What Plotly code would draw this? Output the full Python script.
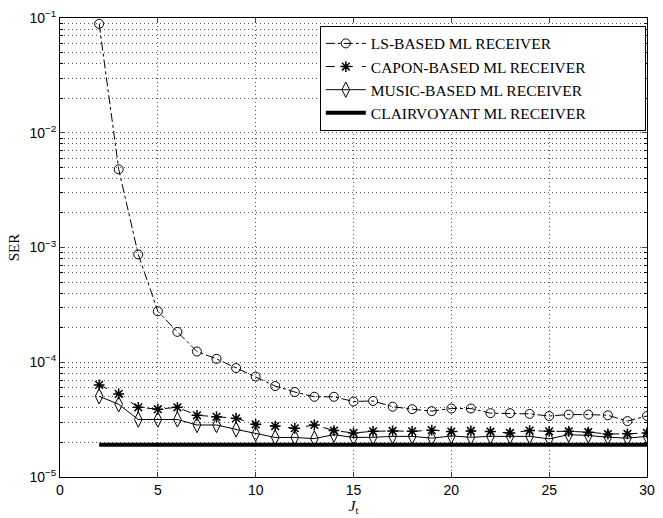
import plotly.graph_objects as go

# ---- data ----
jt = list(range(2, 31))
ls_ser = [8.9e-2, 4.8e-3, 8.7e-4, 2.78e-4, 1.84e-4, 1.24e-4, 1.07e-4, 8.9e-5, 7.5e-5,
          6.2e-5, 5.5e-5, 5.0e-5, 5.0e-5, 4.55e-5, 4.6e-5, 4.1e-5, 3.9e-5, 3.75e-5,
          3.95e-5, 3.95e-5, 3.6e-5, 3.6e-5, 3.55e-5, 3.4e-5, 3.5e-5, 3.5e-5, 3.45e-5,
          3.07e-5, 3.4e-5]
capon_ser = [6.35e-5, 5.3e-5, 4.05e-5, 3.9e-5, 4.05e-5, 3.45e-5, 3.35e-5, 3.25e-5, 2.88e-5,
             2.78e-5, 2.66e-5, 2.84e-5, 2.54e-5, 2.42e-5, 2.5e-5, 2.52e-5, 2.5e-5, 2.56e-5,
             2.49e-5, 2.52e-5, 2.49e-5, 2.42e-5, 2.54e-5, 2.5e-5, 2.5e-5, 2.46e-5, 2.37e-5,
             2.38e-5, 2.42e-5]
music_ser = [5.05e-5, 4.3e-5, 3.17e-5, 3.17e-5, 3.17e-5, 2.84e-5, 2.84e-5, 2.6e-5, 2.38e-5,
             2.21e-5, 2.21e-5, 2.16e-5, 2.34e-5, 2.21e-5, 2.22e-5, 2.26e-5, 2.26e-5, 2.18e-5,
             2.28e-5, 2.22e-5, 2.26e-5, 2.26e-5, 2.26e-5, 2.15e-5, 2.34e-5, 2.3e-5, 2.22e-5,
             2.18e-5, 2.26e-5]
clair_ser = [1.91e-5] * len(jt)

names = ["LS-BASED ML RECEIVER", "CAPON-BASED ML RECEIVER",
         "MUSIC-BASED ML RECEIVER", "CLAIRVOYANT ML RECEIVER"]

decades = [-5, -4, -3, -2, -1]
x_ticks = [0, 5, 10, 15, 20, 25, 30]

major_vals = [10.0 ** d for d in decades]
major_text = [f"10<sup>\u2212{-d}</sup>" for d in decades]
minor_vals = [m * 10.0 ** d for d in decades[:-1] for m in range(2, 10)]

GRID = "#555"
DOT = "1px,3px"
PAD = "\u00a0" * 14  # blank space at the right of the legend box, as in the reference

fig = go.Figure()
fig.add_trace(go.Scatter(x=jt, y=ls_ser, name=names[0], mode="lines+markers",
                         line=dict(color="black", width=1, dash="dashdot"),
                         marker=dict(symbol="circle-open", size=9, color="black",
                                     line=dict(width=1))))
fig.add_trace(go.Scatter(x=jt, y=capon_ser, name=names[1] + PAD, mode="lines+markers",
                         line=dict(color="black", width=1, dash="dash"),
                         marker=dict(symbol="asterisk-open", size=9, color="black",
                                     line=dict(width=1.5, color="black"))))
fig.add_trace(go.Scatter(x=jt, y=music_ser, name=names[2], mode="lines+markers",
                         line=dict(color="black", width=1),
                         marker=dict(symbol="diamond-tall-open", size=11, color="black",
                                     line=dict(width=1))))
fig.add_trace(go.Scatter(x=jt, y=clair_ser, name=names[3], mode="lines",
                         line=dict(color="black", width=4)))

fig.update_layout(
    width=663, height=518,
    margin=dict(l=60, r=8, t=15, b=35),
    paper_bgcolor="white", plot_bgcolor="white",
    showlegend=True,
    legend=dict(x=0.998, y=0.983, xanchor="right", yanchor="top",
                bgcolor="white", bordercolor="black", borderwidth=1,
                font=dict(family="Liberation Serif", size=15.5, color="black"),
                tracegroupgap=0, itemwidth=40),
    font=dict(family="Liberation Sans", size=14, color="black"),
)

fig.update_xaxes(range=[0, 30], tickvals=x_ticks, ticks="inside", ticklen=5,
                 showline=True, linecolor="black", linewidth=1, mirror="ticks",
                 showgrid=True, gridcolor=GRID, griddash=DOT, gridwidth=1,
                 zeroline=False, tickfont=dict(family="Liberation Sans", size=14),
                 title=dict(text="<i>J</i><sub>t</sub>", standoff=2,
                            font=dict(family="Liberation Serif", size=15)))
fig.update_yaxes(type="log", range=[-5, -1], tickvals=major_vals, ticktext=major_text,
                 ticks="inside", ticklen=5,
                 showline=True, linecolor="black", linewidth=1, mirror="ticks",
                 showgrid=True, gridcolor=GRID, griddash=DOT, gridwidth=1,
                 minor=dict(tickvals=minor_vals, ticks="inside", ticklen=3,
                            tickcolor="black", showgrid=True, gridcolor=GRID,
                            griddash=DOT, gridwidth=1),
                 tickfont=dict(family="Liberation Sans", size=14),
                 title=dict(text="SER", standoff=6,
                            font=dict(family="Liberation Serif", size=15)))

fig.write_html("out.html")
